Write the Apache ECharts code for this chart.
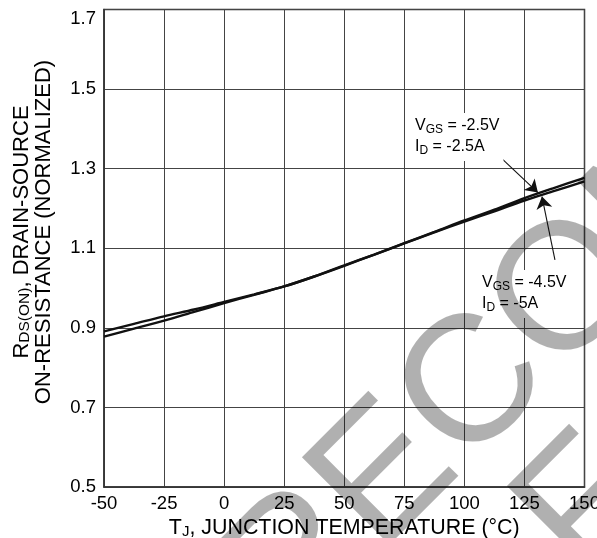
<!DOCTYPE html>
<html>
<head>
<meta charset="utf-8">
<script src="https://cdn.jsdelivr.net/npm/echarts@6/dist/echarts.min.js"></script>
<style>
html,body{margin:0;padding:0;background:#fff;}
#chart{width:597px;height:538px;}
</style>
</head>
<body>
<div id="chart"></div>
<script>
// Junction temperature (°C)
var temps = [-50, -37.5, -25, -12.5, 0, 12.5, 25, 37.5, 50, 62.5, 75, 87.5, 100, 112.5, 125, 137.5, 150];
// Normalized RDS(on), VGS = -2.5V, ID = -2.5A
var rds25 = [0.878, 0.898, 0.918, 0.940, 0.962, 0.983, 1.004, 1.029, 1.056, 1.084, 1.113, 1.141, 1.170, 1.197, 1.226, 1.252, 1.277];
// Normalized RDS(on), VGS = -4.5V, ID = -5A
var rds45 = [0.891, 0.910, 0.929, 0.946, 0.965, 0.984, 1.004, 1.029, 1.057, 1.084, 1.112, 1.140, 1.167, 1.193, 1.220, 1.244, 1.268];
var xTicks = [-50, -25, 0, 25, 50, 75, 100, 125, 150];
var yTicks = [0.5, 0.7, 0.9, 1.1, 1.3, 1.5, 1.7];
// annotation arrows (data coordinates: tail -> head)
var arrow25 = [[113.4, 1.338], [130.6, 1.240]];
var arrow45 = [[137.7, 1.071], [132.3, 1.230]];

var FONT = 'Liberation Sans, Arial, sans-serif';
function pairs(xs, ys){ return xs.map(function(x,i){ return [x, ys[i]]; }); }

var chart = echarts.init(document.getElementById('chart'), null, {renderer:'canvas'});
var subRich = {
  n:{fontSize:16, fontFamily:FONT, color:'#000', lineHeight:21},
  s:{fontSize:12, fontFamily:FONT, color:'#000', lineHeight:10, verticalAlign:'bottom'}
};
var xTitleRich = {
  n:{fontSize:21.4, fontFamily:FONT, color:'#000', lineHeight:22},
  s:{fontSize:15, fontFamily:FONT, color:'#000', lineHeight:12, verticalAlign:'bottom'}
};
var yTitleRich = {
  n:{fontSize:22, fontFamily:FONT, color:'#000', lineHeight:22},
  s:{fontSize:15.5, fontFamily:FONT, color:'#000', lineHeight:12, verticalAlign:'bottom'}
};
var WM_ROT = 45 * Math.PI / 180;
var WM_FONT = 180;
chart.setOption({
  animation:false,
  backgroundColor:'#fff',
  grid:{left:104, top:9.5, width:480.5, height:477.5, show:true, borderColor:'#333', borderWidth:1.5,
        backgroundColor:'transparent', containLabel:false, outerBoundsMode:'none'},
  xAxis:{
    type:'value', min:xTicks[0], max:xTicks[xTicks.length-1], interval:25,
    axisLine:{show:true, onZero:false, lineStyle:{color:'#333', width:1.5}},
    axisTick:{show:false},
    splitLine:{show:true, lineStyle:{color:'#444', width:1}},
    axisLabel:{fontSize:18.5, fontFamily:FONT, color:'#000', margin:7, showMaxLabel:true, showMinLabel:true},
    name:'{n|T}{s|J}{n|, JUNCTION TEMPERATURE (°C)}',
    nameLocation:'middle', nameGap:26,
    nameTextStyle:{rich:xTitleRich}
  },
  yAxis:{
    type:'value', min:yTicks[0], max:yTicks[yTicks.length-1], interval:0.2,
    axisLine:{show:true, onZero:false, lineStyle:{color:'#333', width:1.5}},
    axisTick:{show:false},
    splitLine:{show:true, lineStyle:{color:'#444', width:1}},
    axisLabel:{fontSize:18.5, fontFamily:FONT, color:'#000', margin:8,
      formatter:function(v){ return v.toFixed(1); }, verticalAlignMaxLabel:'top'}
  },
  series:[
    {type:'line', name:'VGS=-2.5V', data:pairs(temps, rds25), smooth:0.3, showSymbol:false, symbol:'none',
     lineStyle:{color:'#111', width:2.4}, z:3,
     markLine:{silent:true, symbol:['none','arrow'], symbolSize:12, animation:false,
       lineStyle:{color:'#111', width:1.1, type:'solid'}, label:{show:false}, emphasis:{disabled:true},
       data:[
         [{coord:arrow25[0]},{coord:arrow25[1]}],
         [{coord:arrow45[0]},{coord:arrow45[1]}]
       ]}
    },
    {type:'line', name:'VGS=-4.5V', data:pairs(temps, rds45), smooth:0.3, showSymbol:false, symbol:'none',
     lineStyle:{color:'#111', width:2.4}, z:3}
  ],
  graphic:[
    {type:'text', x:33, y:232, rotation:Math.PI/2, z:10,
     style:{text:'{n|R}{s|DS(ON)}{n|, DRAIN-SOURCE}\n{n|ON-RESISTANCE (NORMALIZED)}', rich:yTitleRich,
       align:'center', verticalAlign:'middle'}},
    {type:'text', x:412, y:113, z:10,
     style:{text:'{n|V}{s|GS}{n| = -2.5V}\n{n|I}{s|D}{n| = -2.5A}', rich:subRich,
       backgroundColor:'#fff', padding:[2,4,4,3]}},
    {type:'text', x:479, y:270, z:10,
     style:{text:'{n|V}{s|GS}{n| = -4.5V}\n{n|I}{s|D}{n| = -5A}', rich:subRich,
       backgroundColor:'#fff', padding:[2,4,4,3]}},
    {type:'text', x:-52, y:916, rotation:WM_ROT, z:100, silent:true,
     style:{text:'NOT RECOMMENDED', fontSize:WM_FONT, fontFamily:FONT, fill:'rgba(0,0,0,0.31)', align:'left', verticalAlign:'middle'}},
    {type:'text', x:549, y:549, rotation:WM_ROT, z:100, silent:true,
     style:{text:'FOR NEW DESIGN', fontSize:WM_FONT, fontFamily:FONT, fill:'rgba(0,0,0,0.31)', align:'left', verticalAlign:'middle'}}
  ]
});
</script>
</body>
</html>
